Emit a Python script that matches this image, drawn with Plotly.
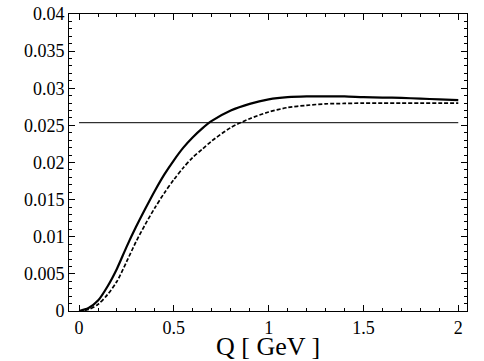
import plotly.graph_objects as go

# Q values [GeV]
q = [0, 0.05, 0.1, 0.15, 0.2, 0.25, 0.3, 0.35, 0.4, 0.45, 0.5, 0.55, 0.6, 0.65, 0.7,
     0.8, 0.9, 1.0, 1.1, 1.2, 1.3, 1.4, 1.5, 1.6, 1.7, 1.8, 1.9, 2.0]

solid_vals = [0, 0.0004, 0.0014, 0.0033, 0.0057, 0.0086, 0.0113, 0.0138, 0.0162, 0.0184,
              0.0203, 0.0220, 0.0234, 0.0246, 0.0256, 0.0270, 0.0279, 0.0285, 0.0288,
              0.0289, 0.0289, 0.0289, 0.0288, 0.02875, 0.0287, 0.0286, 0.0285, 0.0284]

dashed_vals = [0, 0.0002, 0.0009, 0.0022, 0.0040, 0.0066, 0.0093, 0.0117, 0.0139, 0.0159,
               0.0177, 0.0193, 0.0207, 0.0218, 0.0229, 0.0247, 0.0259, 0.0268, 0.0274,
               0.0277, 0.0279, 0.02795, 0.0280, 0.0280, 0.0280, 0.0280, 0.0280, 0.0280]

hline_q = [0, 2]
hline_val = [0.02536, 0.02536]

SERIF = "Times New Roman"

fig = go.Figure()

fig.add_trace(go.Scatter(x=hline_q, y=hline_val, mode='lines',
                         line=dict(color='black', width=1), showlegend=False))
fig.add_trace(go.Scatter(x=q, y=dashed_vals, mode='lines',
                         line=dict(color='black', width=1.7, dash='4px,2px', shape='spline',
                                   smoothing=0.8),
                         showlegend=False))
fig.add_trace(go.Scatter(x=q, y=solid_vals, mode='lines',
                         line=dict(color='black', width=2.2, shape='spline', smoothing=0.8),
                         showlegend=False))

axis_common = dict(
    showline=True, linecolor='black', linewidth=1, mirror='allticks',
    ticks='inside', ticklen=6, tickcolor='black', tickwidth=1,
    showgrid=False, zeroline=False, automargin=False,
    tickfont=dict(family=SERIF, size=18, color='black'),
)

fig.update_layout(
    width=484, height=361,
    margin=dict(l=69, r=17, t=14, b=50),
    plot_bgcolor='white', paper_bgcolor='white',
    font=dict(family=SERIF, color='black'),
    xaxis=dict(range=[-0.053, 2.046], dtick=0.5, tick0=0,
               minor=dict(dtick=0.1, ticks='inside', ticklen=3, tickcolor='black'),
               **axis_common),
    yaxis=dict(range=[0, 0.04], dtick=0.005, tick0=0,
               minor=dict(dtick=0.001, ticks='inside', ticklen=3, tickcolor='black'),
               **axis_common),
    annotations=[dict(text='Q [ GeV ]', xref='paper', yref='paper', x=0.5, y=-0.12,
                      xanchor='center', yanchor='middle', showarrow=False,
                      font=dict(family=SERIF, size=26, color='black'))],
)

# drop the browser's default body margin so the figure sits at the page corner
fig.write_html("out.html", config={'displayModeBar': False},
               post_script="document.body.style.margin='0';")
